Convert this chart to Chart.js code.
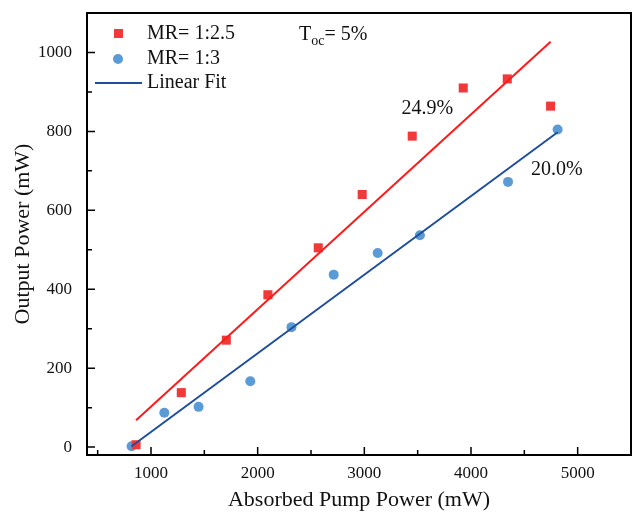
<!DOCTYPE html>
<html>
<head>
<meta charset="utf-8">
<script src="https://cdn.jsdelivr.net/npm/chart.js@4"></script>
<style>
  html, body { margin: 0; padding: 0; background: #fff; overflow: hidden; }
  #wrap { width: 633px; height: 513px; }
  canvas { display: block; }
</style>
</head>
<body>
<div id="wrap"><canvas id="chart"></canvas></div>
<script>
// Output power vs absorbed pump power, two mixing ratios with linear fits
const redPumpX = [860, 1284, 1706, 2096, 2568, 2980, 3449, 3927, 4340, 4746];
const redPowerY = [6, 138, 271, 386, 505, 640, 788, 910, 933, 864];
const bluePumpX = [818, 1125, 1446, 1931, 2317, 2713, 3125, 3521, 4347, 4812];
const bluePowerY = [2, 87, 102, 167, 304, 437, 492, 537, 672, 805];

// fit line end points
const redFitX = [860, 4746];
const redFitY = [68, 1027];
const blueFitX = [818, 4812];
const blueFitY = [2, 798];

const xTicks = [1000, 2000, 3000, 4000, 5000];
const xMinorTicks = [500, 1500, 2500, 3500, 4500, 5500];
const yTicks = [0, 200, 400, 600, 800, 1000];
const yMinorTicks = [100, 300, 500, 700, 900];

const legendLabels = ["MR= 1:2.5", "MR= 1:3", "Linear Fit"];
const slopeLabels = ["24.9%", "20.0%"];
const slopeLabelX = [3591, 4805];
const slopeLabelY = [858, 703];

const SERIF = "'Liberation Serif', 'Times New Roman', serif";
const RED = "#f03a3a";
const BLUE_PT = "#5b9bd5";
const BLUE_LINE = "#1f4e9a";

function toPoints(xs, ys) {
  return xs.map((x, i) => ({ x: x, y: ys[i] }));
}

// frame, inward ticks, legend and text labels
const decorPlugin = {
  id: "decor",
  afterDraw(chart) {
    const ctx = chart.ctx;
    const area = chart.chartArea;
    const xs = chart.scales.x;
    const ys = chart.scales.y;
    ctx.save();

    // box
    ctx.strokeStyle = "#000";
    ctx.lineWidth = 2;
    ctx.strokeRect(area.left, area.top, area.right - area.left, area.bottom - area.top);

    // inward ticks
    ctx.lineWidth = 1.5;
    ctx.beginPath();
    xTicks.forEach(v => {
      const px = xs.getPixelForValue(v);
      ctx.moveTo(px, area.bottom); ctx.lineTo(px, area.bottom - 8);
    });
    xMinorTicks.forEach(v => {
      const px = xs.getPixelForValue(v);
      ctx.moveTo(px, area.bottom); ctx.lineTo(px, area.bottom - 5);
    });
    yTicks.forEach(v => {
      const py = ys.getPixelForValue(v);
      ctx.moveTo(area.left, py); ctx.lineTo(area.left + 8, py);
    });
    yMinorTicks.forEach(v => {
      const py = ys.getPixelForValue(v);
      ctx.moveTo(area.left, py); ctx.lineTo(area.left + 5, py);
    });
    ctx.stroke();

    // legend
    ctx.fillStyle = RED;
    ctx.fillRect(114, 29, 9, 9);
    ctx.fillStyle = BLUE_PT;
    ctx.beginPath();
    ctx.arc(118, 59, 5, 0, Math.PI * 2);
    ctx.fill();
    ctx.strokeStyle = BLUE_LINE;
    ctx.lineWidth = 2;
    ctx.beginPath();
    ctx.moveTo(95, 83); ctx.lineTo(142, 83);
    ctx.stroke();

    ctx.fillStyle = "#111";
    ctx.font = "20px " + SERIF;
    ctx.textBaseline = "middle";
    ctx.textAlign = "left";
    ctx.fillText(legendLabels[0], 147, 34);
    ctx.fillText(legendLabels[1], 147, 59);
    ctx.fillText(legendLabels[2], 147, 83);

    // T_oc = 5%
    let tx = xs.getPixelForValue(2387);
    const ty = ys.getPixelForValue(1044);
    ctx.fillText("T", tx, ty);
    tx += ctx.measureText("T").width;
    ctx.font = "14px " + SERIF;
    ctx.fillText("oc", tx, ty + 6);
    tx += ctx.measureText("oc").width;
    ctx.font = "20px " + SERIF;
    ctx.fillText("= 5%", tx, ty);

    // slope efficiencies
    ctx.textAlign = "center";
    slopeLabels.forEach((t, i) => {
      ctx.fillText(t, xs.getPixelForValue(slopeLabelX[i]), ys.getPixelForValue(slopeLabelY[i]));
    });

    ctx.restore();
  }
};

new Chart(document.getElementById("chart"), {
  type: "scatter",
  data: {
    datasets: [
      {
        label: "red fit",
        data: toPoints(redFitX, redFitY),
        showLine: true,
        borderColor: "#ff1a1a",
        borderWidth: 2,
        pointRadius: 0
      },
      {
        label: "blue fit",
        data: toPoints(blueFitX, blueFitY),
        showLine: true,
        borderColor: BLUE_LINE,
        borderWidth: 2,
        pointRadius: 0
      },
      {
        label: legendLabels[0],
        data: toPoints(redPumpX, redPowerY),
        pointStyle: "rect",
        pointRadius: 6.4,
        backgroundColor: RED,
        borderColor: RED,
        borderWidth: 0
      },
      {
        label: legendLabels[1],
        data: toPoints(bluePumpX, bluePowerY),
        pointStyle: "circle",
        pointRadius: 5,
        backgroundColor: BLUE_PT,
        borderColor: BLUE_PT,
        borderWidth: 0
      }
    ]
  },
  options: {
    responsive: true,
    maintainAspectRatio: false,
    animation: false,
    layout: { autoPadding: false, padding: { top: 13, right: 2, left: 0, bottom: 0 } },
    plugins: {
      legend: { display: false },
      tooltip: { enabled: false }
    },
    scales: {
      x: {
        type: "linear",
        min: 400,
        max: 5500,
        afterBuildTicks: s => { s.ticks = xTicks.map(v => ({ value: v })); },
        afterFit: s => { s.height = 58; s.paddingLeft = 0; s.paddingRight = 0; },
        grid: { display: false },
        border: { display: false },
        ticks: {
          padding: 0,
          color: "#111",
          font: { family: SERIF, size: 17 },
          maxRotation: 0,
          callback: v => String(v)
        },
        title: {
          display: true,
          text: "Absorbed Pump Power (mW)",
          color: "#111",
          font: { family: SERIF, size: 22 },
          padding: 0
        }
      },
      y: {
        min: -20,
        max: 1100,
        afterBuildTicks: s => { s.ticks = yTicks.map(v => ({ value: v })); },
        afterFit: s => { s.width = 87; s.paddingTop = 0; s.paddingBottom = 0; },
        grid: { display: false },
        border: { display: false },
        ticks: {
          padding: 7,
          color: "#111",
          font: { family: SERIF, size: 17 },
          callback: v => String(v)
        },
        title: {
          display: true,
          text: "Output Power (mW)",
          color: "#111",
          font: { family: SERIF, size: 22 },
          padding: { top: 10 }
        }
      }
    }
  },
  plugins: [decorPlugin]
});
</script>
</body>
</html>
